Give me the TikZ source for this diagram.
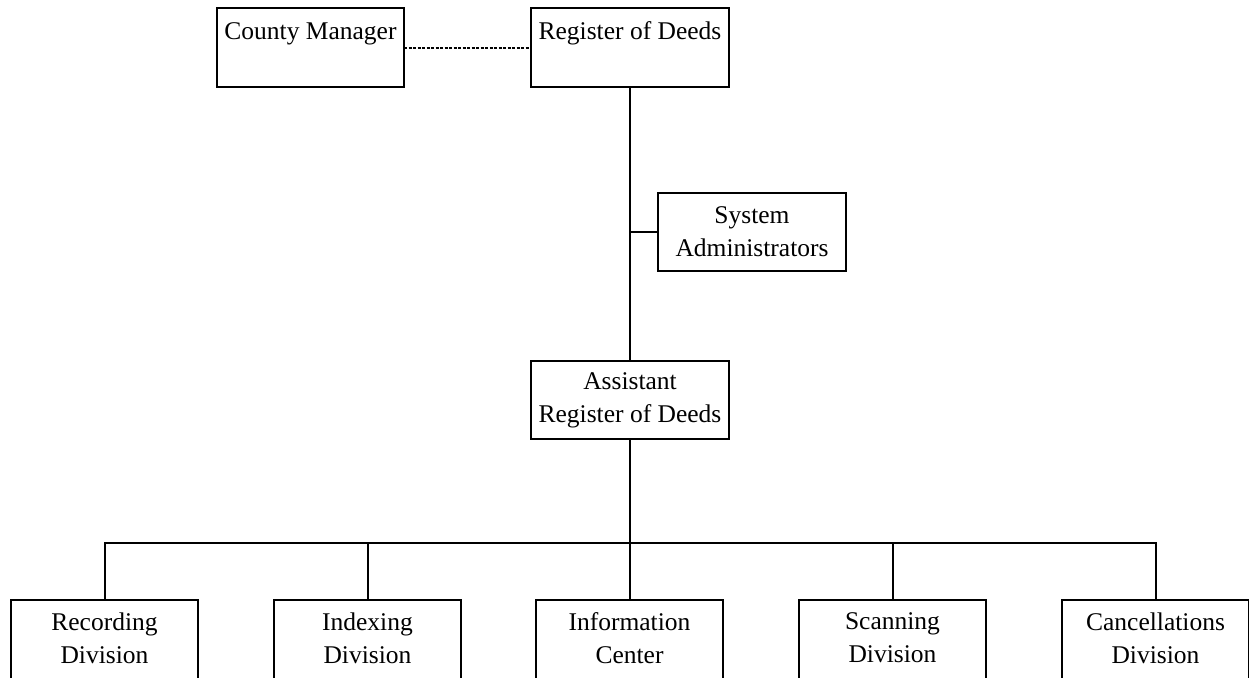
\documentclass[tikz,border=0pt]{standalone}
\usepackage{fontspec}
\setmainfont{Liberation Serif}
\begin{document}
\begin{tikzpicture}[x=0.5pt,y=-0.5pt,
  box/.style={draw=black, line width=1pt, fill=white, inner sep=0pt, outer sep=0pt,
    align=center, font=\fontsize{12.75}{16.5}\selectfont},
  topbox/.style={box, minimum height=39.5pt},
  midbox/.style={box, minimum height=39pt},
  divbox/.style={box, minimum width=93.5pt, minimum height=54.3pt},
  link/.style={line width=1pt, line cap=rect},
  dotlink/.style={line width=1pt, dash pattern=on 1.5pt off 0.75pt}]
\useasboundingbox (0,0) rectangle (1249,677);

\node[topbox, minimum width=93.5pt] (cm) at (310.5,47.5) {County Manager\\\mbox{}};
\node[topbox, minimum width=99pt] (rod) at (630,47.5) {Register of Deeds\\\mbox{}};
\node[midbox, minimum width=94pt] (sys) at (752,232) {System\\Administrators};
\node[midbox, minimum width=99pt] (ard) at (630,400) {Assistant\\Register of Deeds};

\node[divbox] (rec) at (104.5,654.3) {Recording\\Division\\\mbox{}};
\node[divbox] (idx) at (367.5,654.3) {Indexing\\Division\\\mbox{}};
\node[divbox] (inf) at (629.5,654.3) {Information\\Center\\\mbox{}};
\node[divbox] (scn) at (892.5,654.3) {Scanning\\Division\\\mbox{}};
\node[divbox] (can) at (1155.5,654.3) {Cancellations\\Division\\\mbox{}};

\coordinate (bus) at (630,543);

\draw[dotlink] (cm.east) -- (rod.west);
\draw[link] (rod.south) -- (ard.north);
\draw[link] (sys.west) -- (sys.west -| rod.south);
\draw[link] (ard.south) -- (bus);
\draw[link] (rec.north) -- (rec.north |- bus) -- (can.north |- bus) -- (can.north);
\foreach \n in {idx,inf,scn}{
  \draw[link] (\n.north) -- (\n.north |- bus);
}
\end{tikzpicture}
\end{document}
